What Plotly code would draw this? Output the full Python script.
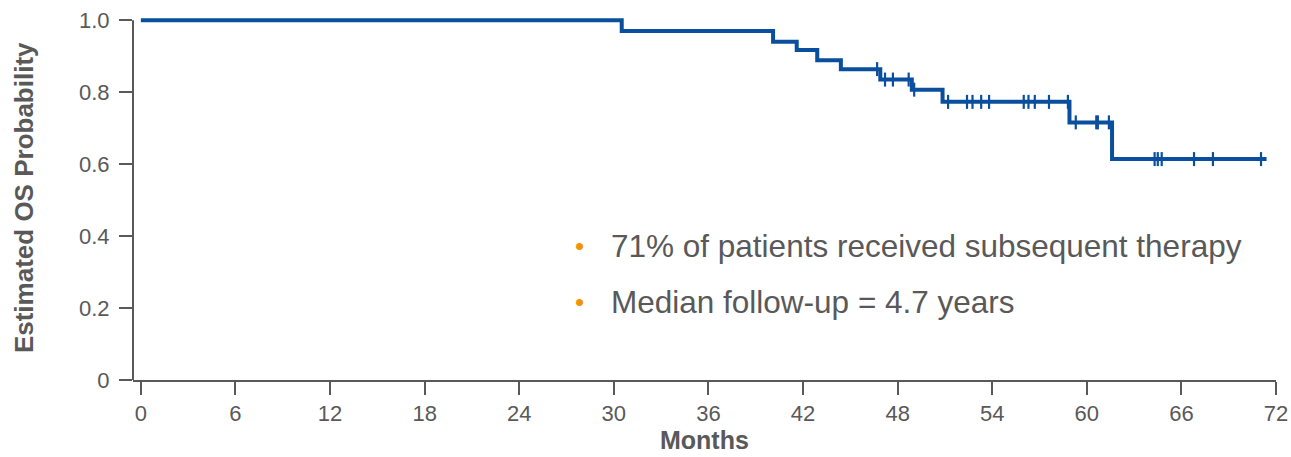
import plotly.graph_objects as go

# Kaplan-Meier overall survival: event times (months) and survival after each step
event_months = [0, 30.5, 40.1, 41.6, 42.9, 44.4, 46.9, 48.9, 50.85, 58.9, 61.6]
survival = [1.0, 0.970, 0.940, 0.917, 0.889, 0.864, 0.835, 0.807, 0.773, 0.716, 0.614]
last_followup = 71.4

# Censored observations (months)
censor_months = [46.7, 47.2, 47.7, 48.7, 49.05, 51.2, 52.4, 52.75, 53.3, 53.8,
                 56.0, 56.3, 56.7, 57.6, 58.8, 59.3, 60.6, 60.7, 61.4,
                 64.3, 64.5, 64.75, 66.8, 68.0, 71.05]

x_ticks = [0, 6, 12, 18, 24, 30, 36, 42, 48, 54, 60, 66, 72]
y_ticks = [0, 0.2, 0.4, 0.6, 0.8, 1.0]
y_tick_text = ["0", "0.2", "0.4", "0.6", "0.8", "1.0"]

notes = ["71% of patients received subsequent therapy", "Median follow-up = 4.7 years"]
note_levels = [0.372, 0.217]

BLUE = "#0A4F9D"
GRAY = "#595959"
ORANGE = "#F39200"
FONT = "Liberation Sans, Arial, sans-serif"

Y_TOP = 1.02          # a little headroom so the 1.0 step is not clipped
PLOT_W = 1143
PLOT_H = 360 * Y_TOP


def surv_at(t):
    s = survival[0]
    for et, sv in zip(event_months, survival):
        if et <= t:
            s = sv
    return s


line_x = event_months + [last_followup]
line_y = survival + [survival[-1]]

fig = go.Figure()
fig.add_trace(go.Scatter(
    x=line_x, y=line_y, mode="lines", line=dict(color=BLUE, width=4, shape="hv"),
    showlegend=False, hoverinfo="skip"))
fig.add_trace(go.Scatter(
    x=censor_months, y=[surv_at(t) for t in censor_months], mode="markers",
    marker=dict(symbol="line-ns", size=10, line=dict(color=BLUE, width=2.2)),
    cliponaxis=False, showlegend=False, hoverinfo="skip"))

# vertical axis line, stopping at 1.0
fig.add_shape(type="line", xref="paper", yref="y", x0=0, x1=0, y0=0, y1=1.0,
              line=dict(color=GRAY, width=2), layer="below")

for text, lvl in zip(notes, note_levels):
    fig.add_annotation(x=27.85, y=lvl, xref="x", yref="y", text="•", showarrow=False,
                       xanchor="center", yanchor="middle",
                       font=dict(family=FONT, size=26, color=ORANGE))
    fig.add_annotation(x=29.7, y=lvl, xref="x", yref="y", text=text, showarrow=False,
                       xanchor="left", yanchor="middle",
                       font=dict(family=FONT, size=31.5, color=GRAY))

# axis titles
fig.add_annotation(x=(24 - 133) / PLOT_W, y=(380 - 198) / PLOT_H, xref="paper", yref="paper",
                   text="<b>Estimated OS Probability</b>", textangle=-90, showarrow=False,
                   xanchor="center", yanchor="middle",
                   font=dict(family=FONT, size=26, color=GRAY))
fig.add_annotation(x=(704 - 133) / PLOT_W, y=(380 - 440) / PLOT_H, xref="paper", yref="paper",
                   text="<b>Months</b>", showarrow=False,
                   xanchor="center", yanchor="middle",
                   font=dict(family=FONT, size=25, color=GRAY))

fig.update_layout(
    width=1291, height=457,
    margin=dict(l=133, r=15, t=380 - PLOT_H, b=77, autoexpand=False),
    paper_bgcolor="white", plot_bgcolor="white",
    font=dict(family=FONT, color=GRAY),
    xaxis=dict(
        range=[-0.5, 72], tickmode="array", tickvals=x_ticks, automargin=False,
        ticks="outside", ticklen=13, tickwidth=2, tickcolor=GRAY,
        showline=True, linecolor=GRAY, linewidth=2, showgrid=False, zeroline=False,
        tickfont=dict(family=FONT, size=22, color=GRAY),
    ),
    yaxis=dict(
        range=[0, Y_TOP], tickmode="array", tickvals=y_ticks, ticktext=y_tick_text,
        automargin=False, ticklabelstandoff=5,
        ticks="outside", ticklen=13, tickwidth=2, tickcolor=GRAY,
        showline=False, showgrid=False, zeroline=False,
        tickfont=dict(family=FONT, size=22, color=GRAY),
    ),
)

fig.write_html("out.html")
